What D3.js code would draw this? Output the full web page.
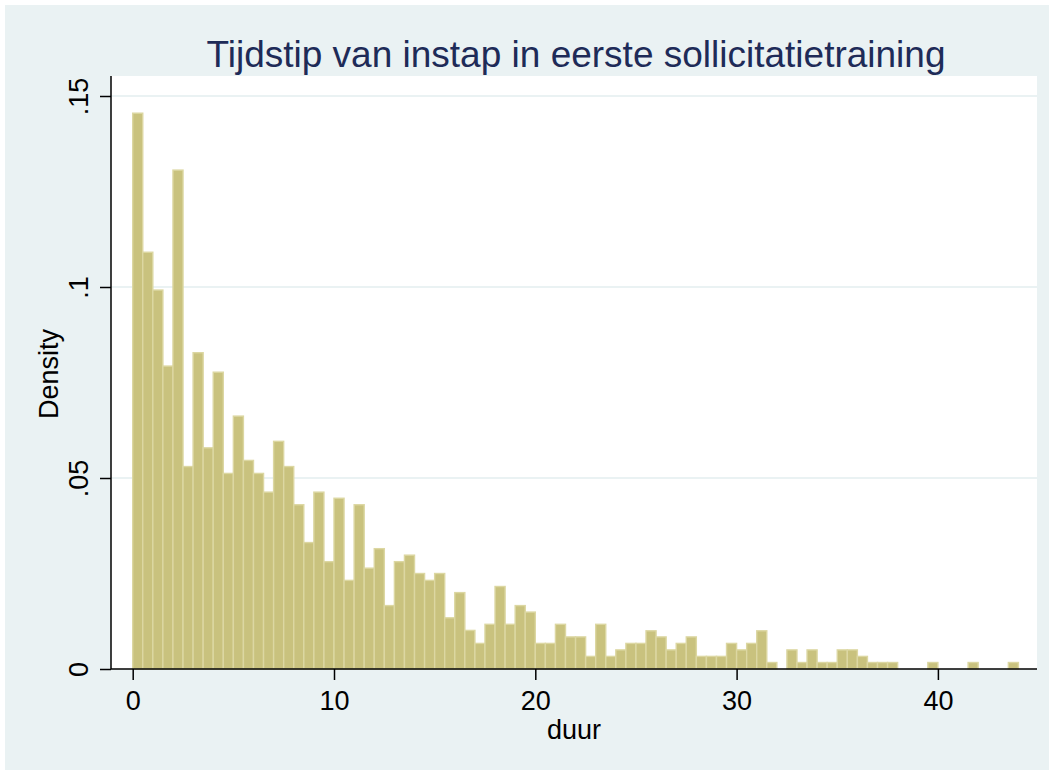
<!DOCTYPE html>
<html>
<head>
<meta charset="utf-8">
<script src="https://cdn.jsdelivr.net/npm/d3@7"></script>
<style>
  html, body { margin: 0; padding: 0; background: #ffffff; }
  svg { display: block; }
  text { font-family: "Liberation Sans", Arial, sans-serif; }
</style>
</head>
<body>
<svg id="chart" width="1054" height="771"></svg>
<script>
// ---- data ----
const title = "Tijdstip van instap in eerste sollicitatietraining";
const xLabel = "duur";
const yLabel = "Density";
const binWidth = 0.5;
const binStart = 0;
// density of each 0.5-wide bin, starting at duur = 0
const densities = [
  0.1455, 0.1091, 0.0992, 0.0793, 0.1306, 0.0530, 0.0828, 0.0579, 0.0777, 0.0512,
  0.0662, 0.0546, 0.0512, 0.0463, 0.0596, 0.0530, 0.0430, 0.0331, 0.0463, 0.0281,
  0.0447, 0.0232, 0.0430, 0.0264, 0.0315, 0.0166, 0.0281, 0.0298, 0.0250, 0.0232,
  0.0250, 0.0134, 0.0200, 0.0101, 0.0067, 0.0117, 0.0216, 0.0117, 0.0166, 0.0149,
  0.0067, 0.0067, 0.0117, 0.0084, 0.0084, 0.0033, 0.0117, 0.0033, 0.0050, 0.0067,
  0.0067, 0.0100, 0.0084, 0.0050, 0.0067, 0.0084, 0.0033, 0.0033, 0.0033, 0.0067,
  0.0050, 0.0067, 0.0100, 0.0017, 0.0000, 0.0050, 0.0017, 0.0050, 0.0017, 0.0017,
  0.0050, 0.0050, 0.0033, 0.0017, 0.0017, 0.0017, 0.0000, 0.0000, 0.0000, 0.0017,
  0.0000, 0.0000, 0.0000, 0.0017, 0.0000, 0.0000, 0.0000, 0.0017
];
const xTicks = [0, 10, 20, 30, 40];
const yTicks = [0, 0.05, 0.1, 0.15];
const yTickLabels = ["0", ".05", ".1", ".15"];

// ---- layout ----
const W = 1054, H = 771;
const plot = { left: 111, right: 1037, top: 76, bottom: 669 };
const labelSize = 27;

const svg = d3.select("#chart");

// outer background
svg.append("rect").attr("x", 0).attr("y", 0).attr("width", W).attr("height", H).attr("fill", "#ffffff");
svg.append("rect").attr("x", 5).attr("y", 5).attr("width", W - 10).attr("height", H - 6)
  .attr("fill", "#eaf2f3");
// plot region
svg.append("rect").attr("x", plot.left).attr("y", plot.top)
  .attr("width", plot.right - plot.left).attr("height", plot.bottom - plot.top)
  .attr("fill", "#ffffff");

const x = d3.scaleLinear().domain([0, 40]).range([132.7, 937.9]);
const y = d3.scaleLinear().domain([0, 0.15]).range([plot.bottom, 96]);

// gridlines
svg.append("g").selectAll("line")
  .data(yTicks.filter(d => d > 0))
  .join("line")
  .attr("x1", plot.left).attr("x2", plot.right)
  .attr("y1", d => y(d)).attr("y2", d => y(d))
  .attr("stroke", "#eaf2f3").attr("stroke-width", 2);

// bars
const bins = densities.map((d, i) => ({ x0: binStart + i * binWidth, x1: binStart + (i + 1) * binWidth, d }));
svg.append("g").selectAll("rect")
  .data(bins.filter(b => b.d > 0))
  .join("rect")
  .attr("x", b => x(b.x0))
  .attr("width", b => x(b.x1) - x(b.x0))
  .attr("y", b => y(b.d))
  .attr("height", b => y(0) - y(b.d))
  .attr("fill", "#c9c27e")
  .attr("stroke", "#dcd7a2")
  .attr("stroke-width", 1.4);

// axes
const xAxis = d3.axisBottom(x).tickValues(xTicks).tickSize(11).tickPadding(11).tickFormat(d3.format("d"));
const gx = svg.append("g").attr("transform", `translate(0,${plot.bottom})`).call(xAxis);
gx.select(".domain").remove();
gx.append("line").attr("x1", plot.left).attr("x2", plot.right).attr("y1", 0).attr("y2", 0)
  .attr("stroke", "#000").attr("stroke-width", 1.5);
gx.selectAll(".tick line").attr("stroke", "#000").attr("stroke-width", 1.5);
gx.selectAll(".tick text").attr("fill", "#000").attr("font-size", labelSize)
  .attr("font-family", "Liberation Sans, Arial, sans-serif");

const yAxis = d3.axisLeft(y).tickValues(yTicks).tickSize(11).tickFormat((d, i) => yTickLabels[i]);
const gy = svg.append("g").attr("transform", `translate(${plot.left},0)`).call(yAxis);
gy.select(".domain").remove();
gy.append("line").attr("x1", 0).attr("x2", 0).attr("y1", plot.top).attr("y2", plot.bottom)
  .attr("stroke", "#000").attr("stroke-width", 1.5);
gy.selectAll(".tick line").attr("stroke", "#000").attr("stroke-width", 1.5);
gy.selectAll(".tick text")
  .attr("fill", "#000").attr("font-size", labelSize)
  .attr("font-family", "Liberation Sans, Arial, sans-serif")
  .attr("x", null).attr("dy", null)
  .attr("text-anchor", "middle")
  .attr("transform", "translate(-23,0) rotate(-90)")
  .attr("y", 0).attr("dy", "0em");

// axis titles
svg.append("text")
  .attr("x", (plot.left + plot.right) / 2).attr("y", 739)
  .attr("text-anchor", "middle").attr("font-size", labelSize).attr("fill", "#000")
  .text(xLabel);
svg.append("text")
  .attr("transform", `translate(58,374) rotate(-90)`)
  .attr("text-anchor", "middle").attr("font-size", labelSize).attr("fill", "#000")
  .text(yLabel);

// title
svg.append("text")
  .attr("x", (plot.left + plot.right) / 2 + 2).attr("y", 67)
  .attr("text-anchor", "middle").attr("font-size", 37).attr("fill", "#1e2b58")
  .text(title);
</script>
</body>
</html>
